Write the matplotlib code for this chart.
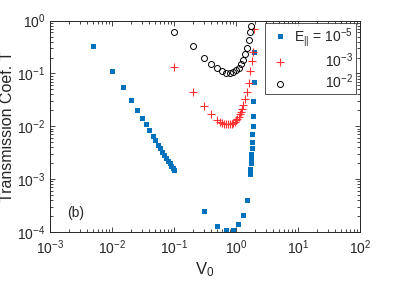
import numpy as np
import matplotlib
matplotlib.use("Agg")
import matplotlib.pyplot as plt

plt.rcParams["font.family"] = ["Liberation Sans", "DejaVu Sans"]
plt.rcParams["mathtext.fontset"] = "custom"
plt.rcParams["mathtext.rm"] = "Liberation Sans"
plt.rcParams["mathtext.it"] = "Liberation Sans:italic"

# E_par = 1e-5 (blue squares)
v_e5 = [0.005, 0.01, 0.015, 0.02, 0.025, 0.03, 0.035, 0.04, 0.045, 0.05,
        0.055, 0.06, 0.065, 0.07, 0.075, 0.08, 0.085, 0.09, 0.095, 0.1,
        0.3, 0.5, 0.7, 0.9, 1.09, 1.28, 1.49,
        1.66, 1.69, 1.72, 1.75, 1.77, 1.79, 1.81, 1.83, 1.85, 1.87, 1.90, 1.92, 1.93]
t_e5 = [0.336, 0.112, 0.055, 0.032, 0.0205, 0.0143, 0.0108, 0.0083, 0.0066, 0.0054,
        0.0045, 0.0038, 0.0032, 0.0028, 0.0025, 0.0022, 0.0020, 0.0018, 0.0016, 0.0015,
        2.45e-4, 1.31e-4, 1.08e-4, 1.10e-4, 1.41e-4, 2.05e-4, 3.97e-4,
        0.00127, 0.00158, 0.00197, 0.00238, 0.00296, 0.00379, 0.00506, 0.00699,
        0.0102, 0.0157, 0.0303, 0.0687, 0.251]

# E_par = 1e-3 (red plus)
v_e3 = [0.1, 0.2, 0.3, 0.4, 0.5, 0.55, 0.6, 0.65, 0.7, 0.75, 0.8, 0.85, 0.9,
        0.95, 1.0, 1.05, 1.1, 1.15, 1.2, 1.25, 1.3, 1.4, 1.5, 1.6, 1.7, 1.8,
        1.87, 1.97]
t_e3 = [0.134, 0.044, 0.024, 0.017, 0.0131, 0.0122, 0.0116, 0.0112, 0.011,
        0.0109, 0.011, 0.0112, 0.0116, 0.0122, 0.013, 0.014, 0.0152, 0.0168,
        0.019, 0.021, 0.025, 0.033, 0.045, 0.065, 0.11, 0.17, 0.25, 0.69]

# E_par = 1e-2 (black circles)
v_e2 = [0.1, 0.2, 0.3, 0.4, 0.5, 0.6, 0.7, 0.8, 0.9, 1.0, 1.1, 1.2, 1.3,
        1.4, 1.5, 1.6, 1.7, 1.75]
t_e2 = [0.62, 0.33, 0.20, 0.15, 0.125, 0.111, 0.104, 0.103, 0.107, 0.115,
        0.128, 0.148, 0.18, 0.23, 0.31, 0.43, 0.6, 0.80]

labels = [r"E$_{||}$ = 10$^{-5}$", r"10$^{-3}$", r"10$^{-2}$"]
INK = "#262626"

fig = plt.figure(figsize=(3.99, 2.83), dpi=100)
ax = fig.add_axes([0.1253, 0.181, 0.777, 0.746])

h5, = ax.plot(v_e5, t_e5, "s", color="#0072BD", ms=3.6, mew=0, clip_on=False)
h3, = ax.plot(v_e3, t_e3, "+", color="#FF3333", ms=6, mew=0.8)
h2, = ax.plot(v_e2, t_e2, "o", mfc="none", mec="black", ms=4.3, mew=0.7)

ax.set_xscale("log")
ax.set_yscale("log")
ax.set_xlim(1e-3, 1e2)
ax.set_ylim(1e-4, 1e0)

ax.tick_params(which="both", direction="in", top=True, right=True,
               colors=INK, labelcolor=INK, labelsize=10, width=0.6)
ax.tick_params(which="major", length=3.5)
ax.tick_params(which="minor", length=2)
ax.tick_params(axis="x", pad=5)
for s in ax.spines.values():
    s.set_color(INK)
    s.set_linewidth(0.7)

ax.set_xlabel(r"V$_0$", fontsize=12, color=INK, labelpad=2)
ax.set_ylabel("Transmission Coef. T", fontsize=11.5, color=INK, labelpad=1)
ax.text(0.055, 0.09, "(b)", transform=ax.transAxes, fontsize=10,
        color=INK, va="center", ha="left")

# legend with the real labels; the short ones are then re-drawn
# right-aligned under the first one, like the MATLAB original
leg = ax.legend([h5, h3, h2], labels, loc="upper right",
                bbox_to_anchor=(0.987, 0.989), fontsize=10,
                frameon=True, fancybox=False, edgecolor=INK,
                handlelength=1.7, handletextpad=0.2, borderpad=0.2,
                labelspacing=0.2, borderaxespad=0.0, labelcolor=INK)
leg.get_frame().set_linewidth(0.7)
fig.canvas.draw()
r = fig.canvas.get_renderer()
texts = leg.get_texts()
x_right = texts[0].get_window_extent(r).x1
for t in texts[1:]:
    bb = t.get_window_extent(r)
    t.set_visible(False)
    fig.text(x_right, bb.y0, t.get_text(), transform=None, ha="right",
             va="bottom", fontsize=10, color=INK)

fig.savefig("out.png", dpi=100)
